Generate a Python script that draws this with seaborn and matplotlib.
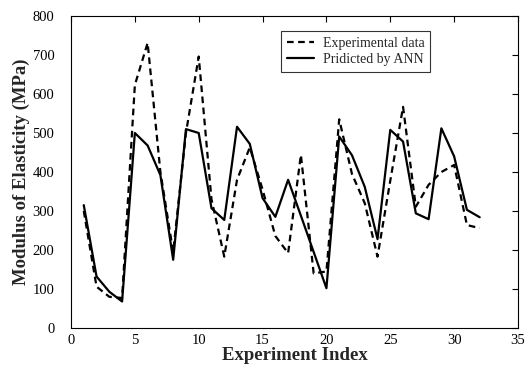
import matplotlib
matplotlib.use("Agg")
import matplotlib.pyplot as plt
import seaborn as sns
import pandas as pd
import numpy as np

experiment_index = list(range(1, 33))
experimental = [300, 106, 80, 77, 623, 731, 400, 195, 500, 696, 330, 183,
                380, 463, 355, 236, 192, 444, 140, 145, 535, 395, 320, 183,
                378, 567, 311, 367, 400, 418, 264, 256]
predicted = [315, 132, 93, 68, 500, 468, 392, 175, 510, 500, 307, 277,
             516, 472, 333, 285, 380, 288, 195, 102, 491, 443, 362, 228,
             508, 478, 294, 279, 512, 440, 303, 284]
series_names = ["Experimental data", "Pridicted by ANN"]

df = pd.DataFrame({
    "Experiment Index": experiment_index * 2,
    "Modulus": experimental + predicted,
    "Series": [series_names[0]] * len(experimental) + [series_names[1]] * len(predicted),
})

sns.set_style("white")
plt.rcParams["font.family"] = ["Liberation Serif", "DejaVu Serif"]

fig = plt.figure(figsize=(5.26, 3.67), dpi=100)
ax = fig.add_axes([71 / 526, 1 - 328 / 367, 447 / 526, 312 / 367])

sns.lineplot(data=df, x="Experiment Index", y="Modulus", hue="Series", style="Series",
             palette=["black", "black"],
             dashes={series_names[0]: (3, 2), series_names[1]: ""},
             linewidth=1.6, ax=ax, legend=True)

ax.set_xlim(0, 35)
ax.set_ylim(0, 800)
ax.set_xticks(range(0, 36, 5))
ax.set_yticks(range(0, 801, 100))
ax.tick_params(direction="in", top=True, right=True, length=4, width=0.8,
               labelsize=10.5, colors="black")
ax.tick_params(axis="y", pad=12)
ax.tick_params(axis="x", pad=4)
for s in ax.spines.values():
    s.set_color("black")
    s.set_linewidth(0.8)

ax.set_xlabel("Experiment Index", fontsize=13.5, fontweight="bold", labelpad=0)
ax.set_ylabel("Modulus of Elasticity (MPa)", fontsize=13.5, fontweight="bold", labelpad=2)

leg = ax.legend(loc="upper left", bbox_to_anchor=(0.47, 0.952), borderaxespad=0,
                frameon=True, fancybox=False, edgecolor="black",
                handlelength=2.0, borderpad=0.4, labelspacing=0.25, handletextpad=0.6,
                prop={"family": "Liberation Serif", "size": 10})
leg.get_frame().set_linewidth(0.8)

fig.savefig("out.png", dpi=100)
